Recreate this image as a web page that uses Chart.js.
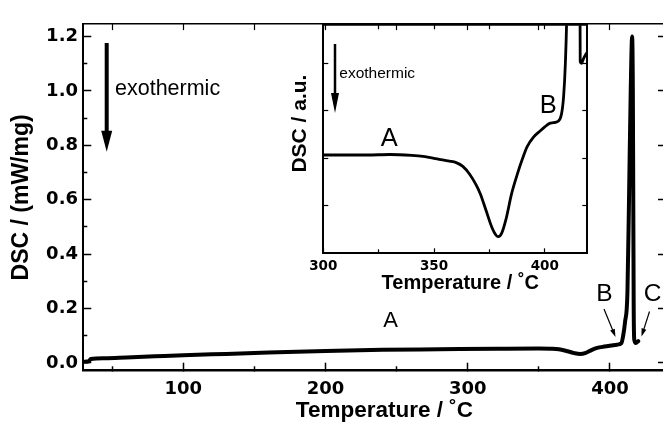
<!DOCTYPE html>
<html>
<head>
<title>DSC curve</title>
<script src="https://cdn.jsdelivr.net/npm/chart.js"></script>
<style>
  body { margin: 0; background: #fff; }
  #wrap { position: relative; width: 663px; height: 427px; }
  #wrap canvas { position: absolute; left: 0; top: 0; }
</style>
</head>
<body>

<div id="wrap">
  <canvas id="mainChart" width="663" height="427"></canvas>
  <canvas id="insetChart" width="663" height="427"></canvas>
</div>

<script>
    // main curve (temperature in degC, DSC in mW/mg)
    const MAIN_T   = [29.8, 33.5, 35, 45, 60, 80, 100, 130, 160, 200, 240, 280, 320, 350, 358, 364, 370, 375, 379, 383, 387, 391, 396, 401, 405, 408, 409.3, 410.6, 412.3, 413.4, 414.6, 415.6, 416.1, 416.4, 416.7, 417.1, 418.2, 419.9];
    const MAIN_DSC = [0.004, 0.006, 0.014, 0.017, 0.020, 0.024, 0.028, 0.033, 0.038, 0.044, 0.048, 0.050, 0.052, 0.053, 0.052, 0.050, 0.043, 0.036, 0.033, 0.037, 0.047, 0.055, 0.060, 0.064, 0.067, 0.072, 0.10, 0.15, 0.26, 0.60, 1.00, 1.20, 1.00, 0.60, 0.20, 0.085, 0.073, 0.080];

    // inset curve (arbitrary units)
    const INSET_T   = [300, 310, 320, 330, 340, 345, 350, 353, 357, 360, 363, 366, 369, 371, 373.5, 376, 378, 379, 380.5, 382.5, 385, 387.5, 390, 392, 395, 398, 400, 402, 404, 406, 407.5, 408.5, 409.3, 410, 411, 415.6, 416, 416.6, 417.5, 419.2];
    const INSET_DSC = [2.07, 2.07, 2.07, 2.08, 2.06, 2.04, 2.00, 1.97, 1.94, 1.91, 1.83, 1.67, 1.44, 1.24, 0.90, 0.56, 0.38, 0.35, 0.42, 0.72, 1.25, 1.65, 2.00, 2.24, 2.45, 2.58, 2.66, 2.73, 2.75, 2.78, 2.92, 3.30, 4.00, 5.20, 9.00, 9.00, 4.03, 4.00, 4.10, 4.24];

    // ticks
    const MAIN_X_TICKS  = [50, 100, 150, 200, 250, 300, 350, 400];
    const MAIN_X_LABELS = [100, 200, 300, 400];
    const MAIN_Y_TICKS  = [0, 0.1, 0.2, 0.3, 0.4, 0.5, 0.6, 0.7, 0.8, 0.9, 1.0, 1.1, 1.2];
    const MAIN_Y_LABELS = [0, 0.2, 0.4, 0.6, 0.8, 1.0, 1.2];
    const INSET_X_TICKS  = [300, 325, 350, 375, 400];
    const INSET_X_LABELS = [300, 350, 400];
    const INSET_Y_TICKS  = [1, 2, 3, 4];

    const TEXT_FONT = '"Liberation Sans", Arial, sans-serif';
    const TICK_FONT = '"DejaVu Sans", sans-serif';

    const isIn = (list, v) => list.some(t => Math.abs(t - v) < 1e-6);
    const setTicks = list => scale => { scale.ticks = list.map(v => ({ value: v })); };

    function drawArrow(ctx, a) {
        const dx = a.x2 - a.x1, dy = a.y2 - a.y1;
        const len = Math.hypot(dx, dy);
        const ux = dx / len, uy = dy / len;
        const bx = a.x2 - ux * a.head, by = a.y2 - uy * a.head;
        ctx.lineWidth = a.w;
        ctx.beginPath();
        ctx.moveTo(a.x1, a.y1);
        ctx.lineTo(bx + ux, by + uy);
        ctx.stroke();
        ctx.beginPath();
        ctx.moveTo(a.x2, a.y2);
        ctx.lineTo(bx - uy * a.hw / 2, by + ux * a.hw / 2);
        ctx.lineTo(bx + uy * a.hw / 2, by - ux * a.hw / 2);
        ctx.closePath();
        ctx.fill();
    }

    // labels and arrows drawn on top of a chart
    function notes(items) {
        return {
            id: 'notes',
            afterDraw(chart) {
                const ctx = chart.ctx;
                ctx.save();
                ctx.fillStyle = '#000';
                ctx.strokeStyle = '#000';
                items.forEach(it => {
                    if (it.text) {
                        ctx.font = it.size + 'px ' + TEXT_FONT;
                        ctx.textAlign = it.align || 'center';
                        ctx.textBaseline = 'middle';
                        ctx.fillText(it.text, it.x, it.y);
                    } else {
                        drawArrow(ctx, it);
                    }
                });
                ctx.restore();
            }
        };
    }

    const mainPoints  = MAIN_T.map((t, i) => ({ x: t, y: MAIN_DSC[i] }));
    const insetPoints = INSET_T.map((t, i) => ({ x: t, y: INSET_DSC[i] }));

    new Chart(document.getElementById('mainChart'), {
        type: 'line',
        data: {
            datasets: [{
                data: mainPoints,
                borderColor: '#000',
                borderWidth: 4,
                pointRadius: 0,
                cubicInterpolationMode: 'monotone',
                borderJoinStyle: 'round',
                borderCapStyle: 'round'
            }]
        },
        options: {
            responsive: false,
            animation: false,
            devicePixelRatio: 1,
            layout: { padding: { left: 0, right: 0, top: 0, bottom: 0 } },
            plugins: { legend: { display: false }, tooltip: { enabled: false } },
            scales: {
                x: {
                    type: 'linear',
                    position: 'bottom',
                    min: 29.7,
                    max: 437.3,
                    afterBuildTicks: setTicks(MAIN_X_TICKS),
                    afterFit: s => { s.height = 56.3; },
                    grid: {
                        drawOnChartArea: false,
                        tickLength: -8,
                        tickWidth: 1.5,
                        tickColor: '#000',
                        tickBorderDash: c => isIn(MAIN_X_LABELS, c.tick.value) ? [] : [5.2, 50]
                    },
                    border: { color: '#000', width: 2.5 },
                    ticks: {
                        autoSkip: false,
                        maxRotation: 0,
                        padding: 15.5,
                        color: '#000',
                        font: { family: TICK_FONT, size: 18, weight: 'bold' },
                        callback: v => isIn(MAIN_X_LABELS, v) ? String(v) : ''
                    },
                    title: {
                        display: true,
                        text: '\u2003Temperature / \u02DAC',
                        color: '#000',
                        font: { family: TEXT_FONT, size: 22.5, weight: 'bold', lineHeight: 1.2 },
                        padding: { top: 0, bottom: 3 }
                    }
                },
                x2: {
                    type: 'linear',
                    position: 'top',
                    min: 29.7,
                    max: 437.3,
                    afterBuildTicks: setTicks(MAIN_X_TICKS),
                    afterFit: s => { s.height = 15; },
                    grid: { drawOnChartArea: false, tickLength: -6, tickWidth: 1.2, tickColor: '#000' },
                    border: { color: '#000', width: 1.5 },
                    ticks: { autoSkip: false, callback: () => '' }
                },
                y: {
                    type: 'linear',
                    position: 'left',
                    min: -0.0287,
                    max: 1.246,
                    afterBuildTicks: setTicks(MAIN_Y_TICKS),
                    afterFit: s => { s.width = 83.3; },
                    grid: {
                        drawOnChartArea: false,
                        tickLength: -8,
                        tickWidth: 1.5,
                        tickColor: '#000',
                        tickBorderDash: c => isIn(MAIN_Y_LABELS, c.tick.value) ? [] : [0, 4, 5, 50]
                    },
                    border: { color: '#000', width: 2 },
                    ticks: {
                        autoSkip: false,
                        padding: 13.3,
                        color: '#000',
                        font: { family: TICK_FONT, size: 18, weight: 'bold' },
                        callback: v => isIn(MAIN_Y_LABELS, v) ? v.toFixed(1) : ''
                    },
                    title: {
                        display: true,
                        text: 'DSC / (mW/mg)',
                        color: '#000',
                        font: { family: TEXT_FONT, size: 23, weight: 'bold', lineHeight: 1.2 },
                        padding: { top: 7.7, bottom: 0 }
                    }
                },
                y2: {
                    type: 'linear',
                    position: 'right',
                    min: -0.0287,
                    max: 1.246,
                    afterBuildTicks: setTicks(MAIN_Y_LABELS),
                    afterFit: s => { s.width = 0; },
                    grid: { drawOnChartArea: false, tickLength: -5, tickWidth: 1.5, tickColor: '#000' },
                    border: { display: false },
                    ticks: { autoSkip: false, callback: () => '' }
                }
            }
        },
        plugins: [notes([
            { x1: 106.7, y1: 43, x2: 106.7, y2: 151.7, w: 4, head: 21, hw: 11 },
            { text: 'exothermic', x: 115, y: 89.2, size: 21.5, align: 'left' },
            { text: 'A', x: 390.7, y: 320.7, size: 22 },
            { text: 'B', x: 604.5, y: 294, size: 24.5 },
            { text: 'C', x: 652.5, y: 294, size: 24.5 },
            { x1: 604, y1: 309, x2: 615.5, y2: 337, w: 1.2, head: 8, hw: 5 },
            { x1: 649.5, y1: 311.5, x2: 641.5, y2: 336.5, w: 1.2, head: 8, hw: 5 }
        ])]
    });

    new Chart(document.getElementById('insetChart'), {
        type: 'line',
        data: {
            datasets: [{
                data: insetPoints,
                borderColor: '#000',
                borderWidth: 2.8,
                pointRadius: 0,
                cubicInterpolationMode: 'monotone',
                borderJoinStyle: 'round'
            }]
        },
        options: {
            responsive: false,
            animation: false,
            devicePixelRatio: 1,
            layout: { padding: { left: 283.3, right: 75.7, top: 25.3, bottom: 129.7 } },
            plugins: { legend: { display: false }, tooltip: { enabled: false } },
            scales: {
                x: {
                    type: 'linear',
                    position: 'bottom',
                    min: 300,
                    max: 419.2,
                    afterBuildTicks: setTicks(INSET_X_TICKS),
                    afterFit: s => { s.height = 44; },
                    grid: {
                        drawOnChartArea: false,
                        tickLength: -5,
                        tickWidth: 1.2,
                        tickColor: '#000',
                        tickBorderDash: c => isIn(INSET_X_LABELS, c.tick.value) ? [] : [4.7, 50]
                    },
                    border: { color: '#000', width: 2 },
                    ticks: {
                        autoSkip: false,
                        maxRotation: 0,
                        padding: 10.3,
                        color: '#000',
                        font: { family: TICK_FONT, size: 13.5, weight: 'bold' },
                        callback: v => isIn(INSET_X_LABELS, v) ? String(v) : ''
                    },
                    title: {
                        display: true,
                        text: '\u2002Temperature / \u02DAC',
                        color: '#000',
                        font: { family: TEXT_FONT, size: 20, weight: 'bold', lineHeight: 1.2 },
                        padding: { top: 0, bottom: 2 }
                    }
                },
                x2: {
                    type: 'linear',
                    position: 'top',
                    min: 300,
                    max: 419.2,
                    afterBuildTicks: setTicks(INSET_X_TICKS),
                    afterFit: s => { s.height = 0; },
                    grid: { drawOnChartArea: false, tickLength: -4, tickWidth: 1.2, tickColor: '#000' },
                    border: { color: '#000', width: 1.8 },
                    ticks: { autoSkip: false, callback: () => '' }
                },
                y: {
                    type: 'linear',
                    position: 'left',
                    min: 0,
                    max: 4.8,
                    afterBuildTicks: setTicks(INSET_Y_TICKS),
                    afterFit: s => { s.width = 40; },
                    grid: { drawOnChartArea: false, tickLength: -5, tickWidth: 1.2, tickColor: '#000' },
                    border: { color: '#000', width: 2 },
                    ticks: { autoSkip: false, callback: () => '' },
                    title: {
                        display: true,
                        text: '\u2003\u2002DSC / a.u.',
                        color: '#000',
                        font: { family: TEXT_FONT, size: 21, weight: 'bold', lineHeight: 1.2 },
                        padding: { top: 4.1, bottom: 0 }
                    }
                },
                y2: {
                    type: 'linear',
                    position: 'right',
                    min: 0,
                    max: 4.8,
                    afterBuildTicks: setTicks(INSET_Y_TICKS),
                    afterFit: s => { s.width = 0; },
                    grid: { drawOnChartArea: false, tickLength: -5, tickWidth: 1.2, tickColor: '#000' },
                    border: { color: '#000', width: 2 },
                    ticks: { autoSkip: false, callback: () => '' }
                }
            }
        },
        plugins: [notes([
            { x1: 335, y1: 44, x2: 335, y2: 113, w: 2.5, head: 20, hw: 8 },
            { text: 'exothermic', x: 339.3, y: 73.9, size: 15.5, align: 'left' },
            { text: 'A', x: 389.3, y: 138.9, size: 25.5 },
            { text: 'B', x: 548.3, y: 106.2, size: 25.5 }
        ])]
    });
</script>

</body>
</html>
